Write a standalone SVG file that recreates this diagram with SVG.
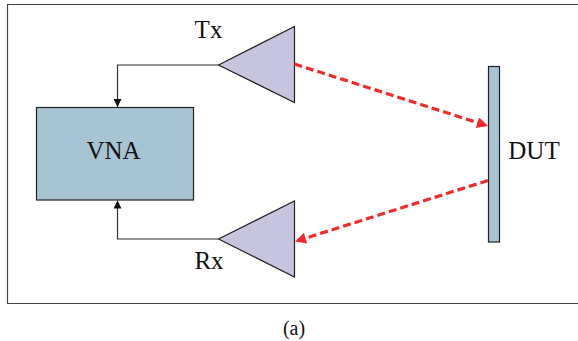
<svg xmlns="http://www.w3.org/2000/svg" width="578" height="341" viewBox="0 0 578 341">
<defs>
<style>
text{font-family:"Liberation Serif","Times New Roman",serif;fill:#111;}
.lbl{font-size:25px;}
.ant{fill:#c7c4e0;stroke:#222;stroke-width:1.2;}
.conn{fill:none;stroke:#333;stroke-width:1.2;}
.ray{fill:none;stroke:#ef2b2b;stroke-width:3.2;stroke-dasharray:8,4;}
</style>
<marker id="ah" viewBox="0 0 10 10" refX="10" refY="5" markerWidth="8" markerHeight="8" markerUnits="userSpaceOnUse" orient="auto">
<path d="M0,0 L10,5 L0,10 Z" fill="#111"/>
</marker>
<marker id="rh" viewBox="0 0 10 10" refX="10" refY="5" markerWidth="12" markerHeight="11" markerUnits="userSpaceOnUse" orient="auto">
<path d="M0,0 L10,5 L0,10 Z" fill="#ef2b2b"/>
</marker>
</defs>
<rect width="578" height="341" fill="#fff"/>
<g id="frame">
<path d="M578,4.5 H7.5 V303.5 H578" fill="none" stroke="#444" stroke-width="1.2"/>
</g>
<g id="vna">
<rect x="36.5" y="107.5" width="157" height="92.5" fill="#a7c4d4" stroke="#222" stroke-width="1.2"/>
<text class="lbl" x="113.5" y="158.5" text-anchor="middle">VNA</text>
</g>
<g id="tx">
<path class="ant" d="M218.5,65 L294.5,26.5 L294.5,102.5 Z"/>
<text class="lbl" x="208.5" y="37.5" text-anchor="middle">Tx</text>
</g>
<g id="rx">
<path class="ant" d="M218.5,239 L294.5,201 L294.5,277 Z"/>
<text class="lbl" x="209" y="269" text-anchor="middle">Rx</text>
</g>
<g id="dut">
<rect x="488.5" y="66.5" width="11" height="175.5" fill="#a7c4d4" stroke="#222" stroke-width="1.2"/>
<text class="lbl" x="534" y="158.5" text-anchor="middle">DUT</text>
</g>
<g id="connectors">
<path class="conn" d="M218.5,65 H117.5 V107" marker-end="url(#ah)"/>
<path class="conn" d="M218.5,239 H117.5 V200.5" marker-end="url(#ah)"/>
<path class="ray" d="M294.5,64 L488,126" marker-end="url(#rh)"/>
<path class="ray" d="M488,180.5 L295,241.5" marker-end="url(#rh)"/>
</g>
<text x="294" y="335" font-size="20" text-anchor="middle">(a)</text>
</svg>
